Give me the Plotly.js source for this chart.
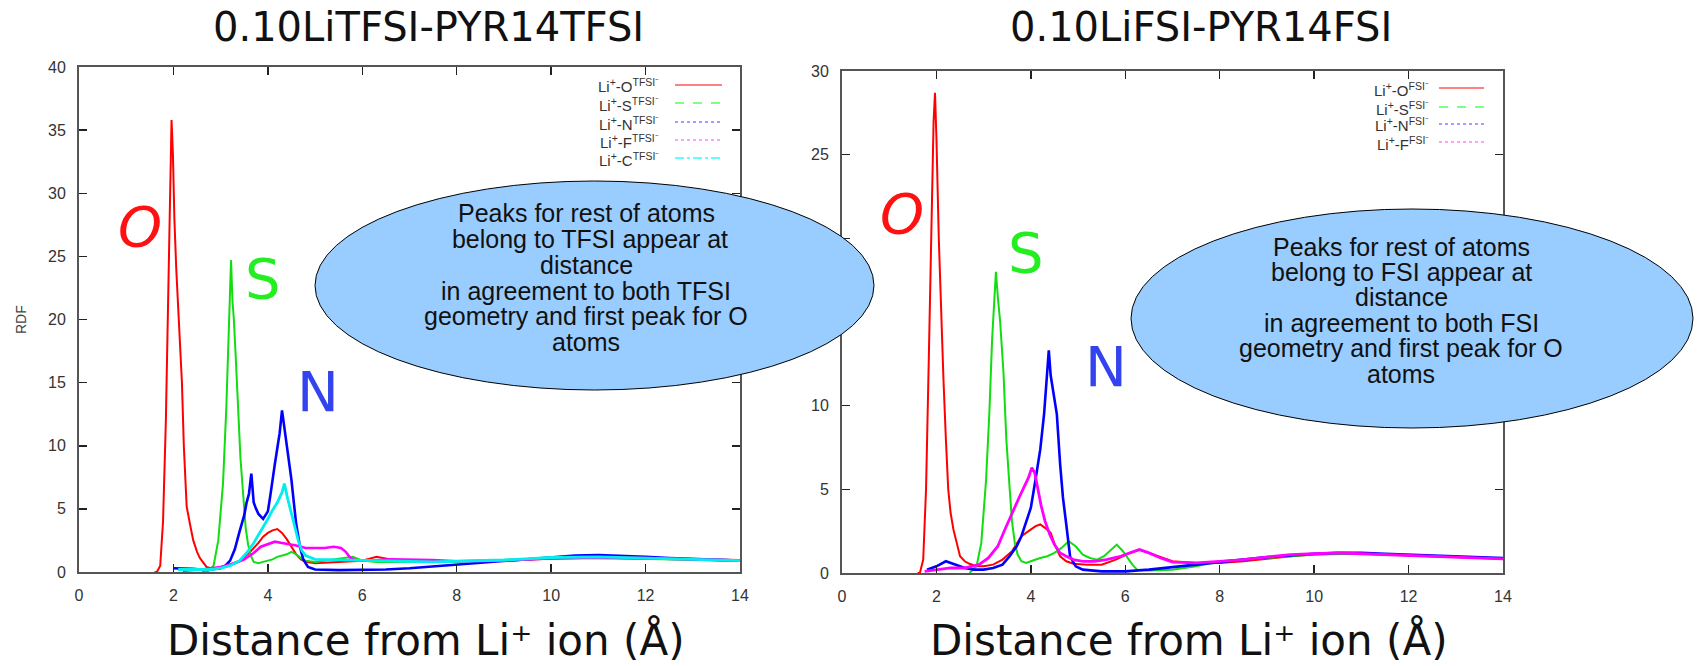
<!DOCTYPE html>
<html><head><meta charset="utf-8">
<script src="https://cdn.plot.ly/plotly-3.0.1.min.js"></script>
<style>html,body{margin:0;padding:0;background:#fff;}#chart{width:1698px;height:666px;}</style>
</head><body><div id="chart"></div>
<script>
const W = 1698, H = 666;

// ---------- Titles / labels ----------
const titleLeft = '0.10LiTFSI-PYR14TFSI';
const titleRight = '0.10LiFSI-PYR14FSI';
const xLabel = 'Distance from Li\u207A ion (\u00C5)';
const yLabel = 'RDF';
const xTicks = [0, 2, 4, 6, 8, 10, 12, 14];
const yTicksLeft = [0, 5, 10, 15, 20, 25, 30, 35, 40];
const yTicksRight = [0, 5, 10, 15, 20, 25, 30];
const legendLeft = ['Li<sup>+</sup>-O<sup>TFSI\u207B</sup>', 'Li<sup>+</sup>-S<sup>TFSI\u207B</sup>', 'Li<sup>+</sup>-N<sup>TFSI\u207B</sup>', 'Li<sup>+</sup>-F<sup>TFSI\u207B</sup>', 'Li<sup>+</sup>-C<sup>TFSI\u207B</sup>'];
const legendRight = ['Li<sup>+</sup>-O<sup>FSI\u207B</sup>', 'Li<sup>+</sup>-S<sup>FSI\u207B</sup>', 'Li<sup>+</sup>-N<sup>FSI\u207B</sup>', 'Li<sup>+</sup>-F<sup>FSI\u207B</sup>'];
const bubbleLeft = ['Peaks for rest of atoms', ' belong to TFSI appear at', 'distance', 'in agreement to both TFSI', 'geometry and first peak for O', 'atoms'];
const bubbleRight = ['Peaks for rest of atoms', 'belong to FSI appear at', 'distance', 'in agreement to both FSI', 'geometry and first peak for O', 'atoms'];

// ---------- Left panel: 0.10LiTFSI-PYR14TFSI ----------
const xO_T = [1.6, 1.65, 1.72, 1.78, 1.84, 1.88, 1.92, 1.96, 1.99, 2.02, 2.06, 2.1, 2.14, 2.18, 2.22, 2.28, 2.35, 2.42, 2.5, 2.56, 2.62, 2.7, 2.8, 2.9, 3.0, 3.2, 3.4, 3.6, 3.8, 3.9, 4.0, 4.1, 4.2, 4.3, 4.4, 4.5, 4.6, 4.7, 4.8, 5.0, 5.5, 6.0, 6.3, 6.6, 7.0, 7.5, 8, 9, 10, 11, 12, 13, 14];
const yO_T = [0, 0, 0.5, 4, 12, 20, 29, 35.8, 33, 28, 24, 21, 18, 15, 10, 5.2, 3.8, 2.5, 1.6, 1.1, 0.8, 0.4, 0.3, 0.3, 0.4, 0.6, 0.9, 1.5, 2.3, 2.8, 3.1, 3.3, 3.4, 3.1, 2.6, 2.0, 1.4, 1.0, 0.8, 0.7, 0.8, 0.9, 1.2, 1.0, 0.9, 0.85, 0.85, 0.9, 1.05, 1.1, 1.05, 1.0, 0.95];

const xS_T = [2.6, 2.75, 2.85, 2.95, 3.05, 3.12, 3.18, 3.22, 3.25, 3.28, 3.32, 3.37, 3.42, 3.48, 3.53, 3.58, 3.64, 3.7, 3.8, 3.9, 4.0, 4.1, 4.2, 4.3, 4.4, 4.5, 4.6, 4.7, 4.8, 5.0, 5.2, 5.5, 5.8, 6.0, 6.3, 6.6, 7, 8, 9, 10, 11, 12, 13, 14];
const yS_T = [0, 0.1, 0.5, 2.5, 7, 13, 20, 24.7, 21.5, 20, 17, 13, 9, 6, 3.5, 2.2, 1.3, 0.8, 0.7, 0.8, 0.9, 1.0, 1.2, 1.3, 1.4, 1.6, 1.4, 1.1, 0.9, 0.8, 0.9, 1.0, 1.2, 0.9, 0.8, 0.8, 0.8, 0.85, 0.95, 1.1, 1.1, 1.05, 1.0, 0.9];

const xN_T = [2.0, 2.2, 2.4, 2.6, 2.8, 3.0, 3.1, 3.2, 3.3, 3.4, 3.5, 3.55, 3.6, 3.65, 3.7, 3.75, 3.8, 3.9, 4.0, 4.05, 4.1, 4.15, 4.2, 4.25, 4.3, 4.35, 4.4, 4.45, 4.5, 4.55, 4.6, 4.68, 4.75, 4.85, 5.0, 5.5, 6.0, 6.5, 7.0, 7.5, 8.0, 8.5, 9.0, 9.5, 10.0, 10.5, 11.0, 11.5, 12.0, 12.5, 13.0, 13.5, 14.0];
const yN_T = [0.3, 0.3, 0.25, 0.2, 0.2, 0.3, 0.5, 0.9, 1.8, 3.2, 4.5, 5.5, 6.2, 7.8, 5.5, 5.0, 4.6, 4.2, 4.8, 6.0, 7.5, 8.6, 9.8, 11.0, 12.8, 11.5, 10.0, 8.5, 7.3, 5.5, 3.8, 2.0, 1.0, 0.4, 0.2, 0.15, 0.15, 0.2, 0.3, 0.45, 0.6, 0.75, 0.9, 1.05, 1.2, 1.3, 1.35, 1.3, 1.2, 1.1, 1.05, 0.95, 0.9];

const xF_T = [2.2, 2.6, 3.0, 3.3, 3.5, 3.7, 3.85, 4.0, 4.15, 4.3, 4.45, 4.6, 4.8, 5.0, 5.2, 5.4, 5.55, 5.65, 5.75, 5.9, 6.2, 6.6, 7.0, 7.5, 8.0, 9.0, 10.0, 11.0, 12.0, 13.0, 14.0];
const yF_T = [0.1, 0.2, 0.4, 0.7, 1.0, 1.5, 2.0, 2.2, 2.4, 2.3, 2.2, 2.1, 1.9, 1.9, 1.9, 2.0, 1.9, 1.6, 1.1, 0.9, 0.9, 1.0, 1.0, 0.95, 0.85, 0.9, 1.1, 1.15, 1.1, 1.0, 0.9];

const xC_T = [2.1, 2.5, 2.8, 3.0, 3.2, 3.4, 3.55, 3.7, 3.85, 4.0, 4.1, 4.2, 4.3, 4.35, 4.42, 4.5, 4.58, 4.65, 4.72, 4.8, 5.0, 5.5, 6.0, 6.5, 7.0, 7.5, 8.0, 9.0, 10.0, 11.0, 12.0, 13.0, 14.0];
const yC_T = [0.2, 0.2, 0.2, 0.3, 0.5, 0.9, 1.5, 2.3, 3.2, 4.2, 4.9, 5.5, 6.3, 7.0, 5.8, 4.6, 3.4, 2.4, 1.7, 1.3, 1.0, 0.95, 0.9, 0.85, 0.8, 0.8, 0.85, 0.95, 1.15, 1.2, 1.1, 1.0, 0.9];

// ---------- Right panel: 0.10LiFSI-PYR14FSI ----------
const xO_F = [1.6, 1.65, 1.72, 1.78, 1.84, 1.9, 1.94, 1.97, 2.0, 2.05, 2.1, 2.15, 2.2, 2.25, 2.3, 2.36, 2.43, 2.5, 2.6, 2.7, 2.85, 3.0, 3.2, 3.4, 3.6, 3.8, 3.95, 4.1, 4.2, 4.3, 4.42, 4.52, 4.62, 4.75, 4.9, 5.2, 5.5, 5.8, 6.1, 6.3, 6.5, 6.8, 7.0, 7.5, 8.0, 8.5, 9.0, 9.5, 10.0, 10.5, 11.0, 11.5, 12.0, 12.5, 13.0, 13.5, 14.0];
const yO_F = [0, 0, 0.8, 5, 13, 22, 27, 28.7, 26, 20, 15, 11.5, 8, 5, 3.6, 2.6, 1.8, 1.0, 0.7, 0.55, 0.4, 0.4, 0.5, 0.8, 1.3, 2.2, 2.5, 2.8, 2.9, 2.7, 2.4, 1.6, 1.0, 0.7, 0.55, 0.5, 0.5, 0.8, 1.2, 1.4, 1.2, 0.9, 0.7, 0.6, 0.6, 0.7, 0.85, 1.0, 1.1, 1.15, 1.15, 1.1, 1.05, 1.0, 0.95, 0.9, 0.85];

const xS_F = [2.7, 2.85, 2.95, 3.05, 3.12, 3.18, 3.23, 3.26, 3.3, 3.35, 3.42, 3.48, 3.54, 3.6, 3.66, 3.72, 3.8, 3.9, 4.0, 4.1, 4.2, 4.35, 4.5, 4.65, 4.8, 4.95, 5.1, 5.25, 5.4, 5.55, 5.7, 5.82, 5.95, 6.05, 6.15, 6.25, 6.5, 7.0, 7.5, 8.0, 9.0, 10.0, 11.0, 12.0, 13.0, 14.0];
const yS_F = [0, 0.4, 1.8, 5.5, 9.5, 14, 16.5, 18.0, 16.5, 15, 12, 8, 5.5, 3.1, 1.8, 1.1, 0.7, 0.6, 0.7, 0.8, 0.9, 1.0, 1.2, 1.5, 1.9, 1.6, 1.1, 0.9, 0.8, 1.0, 1.4, 1.7, 1.3, 0.9, 0.5, 0.2, 0.15, 0.2, 0.4, 0.7, 0.9, 1.1, 1.15, 1.05, 0.95, 0.85];

const xN_F = [1.8, 2.0, 2.2, 2.4, 2.6, 2.8, 3.0, 3.2, 3.4, 3.55, 3.7, 3.8, 3.9, 4.0, 4.1, 4.2, 4.28, 4.34, 4.38, 4.42, 4.48, 4.55, 4.62, 4.68, 4.75, 4.83, 4.95, 5.1, 5.5, 6.0, 6.5, 7.0, 7.5, 8.0, 8.5, 9.0, 9.5, 10.0, 10.5, 11.0, 11.5, 12.0, 12.5, 13.0, 13.5, 14.0];
const yN_F = [0.2, 0.4, 0.7, 0.5, 0.3, 0.2, 0.2, 0.3, 0.5, 1.0, 1.6, 2.2, 3.0, 3.9, 5.6, 7.4, 9.5, 11.5, 13.3, 11.8, 10.8, 9.5, 6.5, 4.5, 2.9, 1.0, 0.4, 0.2, 0.1, 0.1, 0.2, 0.35, 0.5, 0.65, 0.8, 0.95, 1.05, 1.15, 1.2, 1.2, 1.15, 1.1, 1.05, 1.0, 0.95, 0.9];

const xF_F = [1.75, 2.0, 2.3, 2.6, 2.9, 3.1, 3.3, 3.45, 3.6, 3.75, 3.85, 3.95, 4.02, 4.08, 4.15, 4.22, 4.3, 4.4, 4.5, 4.62, 4.75, 4.9, 5.1, 5.35, 5.6, 5.9, 6.1, 6.3, 6.5, 6.75, 7.0, 7.5, 8.0, 8.5, 9.0, 9.5, 10.0, 10.5, 11.0, 11.5, 12.0, 12.5, 13.0, 13.5, 14.0];
const yF_F = [0.1, 0.2, 0.3, 0.3, 0.5, 0.9, 1.6, 2.6, 3.6, 4.5, 5.1, 5.7, 6.3, 6.0, 5.0, 4.0, 3.1, 2.3, 1.7, 1.2, 1.0, 0.8, 0.7, 0.7, 0.8, 1.0, 1.2, 1.4, 1.2, 0.9, 0.65, 0.6, 0.7, 0.8, 0.95, 1.1, 1.15, 1.2, 1.15, 1.1, 1.05, 1.0, 0.95, 0.9, 0.85];

// ---------- styling ----------
const C = {O:'#ff0000', S:'#11dd11', N:'#0000ff', F:'#ff00ff', Cc:'#00eeee'};
const CL = {O:'#ff8080', S:'#7fff7f', N:'#a0a0ff', F:'#ffa0ff', Cc:'#60ffff'};
const tickFont = {family:'"Liberation Sans Narrow", "Liberation Sans", Arial, sans-serif', size:16, color:'#333'};

function tr(x, y, color, xa, ya, w) {
  return {x:x, y:y, type:'scatter', mode:'lines', line:{color:color, width:w || 2}, xaxis:xa, yaxis:ya, hoverinfo:'skip'};
}
const data = [
  tr(xO_T, yO_T, C.O, 'x', 'y', 2),
  tr(xS_T, yS_T, C.S, 'x', 'y', 2),
  tr(xN_T, yN_T, C.N, 'x', 'y', 2.6),
  tr(xF_T, yF_T, C.F, 'x', 'y', 2.6),
  tr(xC_T, yC_T, C.Cc, 'x', 'y', 2.8),
  tr(xO_F, yO_F, C.O, 'x2', 'y2', 2),
  tr(xS_F, yS_F, C.S, 'x2', 'y2', 2),
  tr(xN_F, yN_F, C.N, 'x2', 'y2', 2.6),
  tr(xF_F, yF_F, C.F, 'x2', 'y2', 2.8)
];

function axis(domain, range, ticks, anchor, standoff) {
  return {domain:domain, range:range, tickvals:ticks, ticktext:ticks.map(String), anchor:anchor,
    showline:true, linecolor:'#555', linewidth:2, mirror:'ticks', ticks:'inside', ticklen:8,
    tickwidth:1.5, tickcolor:'#222', showgrid:false, zeroline:false, tickfont:tickFont,
    ticklabelstandoff:standoff, fixedrange:true};
}
// plot rectangles in pixels
const L = {x0:79, x1:740, y0:67, y1:572};
const R = {x0:842, x1:1503, y0:71, y1:573};
const dx = r => [r.x0 / W, r.x1 / W];
const dy = r => [1 - r.y1 / H, 1 - r.y0 / H];

function ann(text, x, y, font, extra) {
  return Object.assign({text:text, x:x / W, y:1 - y / H, xref:'paper', yref:'paper', showarrow:false,
    font:font, xanchor:'center', yanchor:'middle'}, extra || {});
}
const titleFont = {family:'"DejaVu Sans", sans-serif', size:40, color:'#111'};
const xlabFont = {family:'"DejaVu Sans", sans-serif', size:42, color:'#111'};
const bubbleFont = {family:'"Liberation Sans", Arial, sans-serif', size:25, color:'#111'};
const legFont = {family:'"Liberation Sans Narrow", "Liberation Sans", Arial, sans-serif', size:15, color:'#333'};
const bigFont = (c, it) => ({family:'"DejaVu Sans", sans-serif', size:56, color:c, style: it ? 'italic' : 'normal'});

const annotations = [
  ann(titleLeft, 428, 27, titleFont),
  ann(titleRight, 1201, 27, titleFont),
  ann(xLabel, 426, 640, xlabFont),
  ann(xLabel, 1189, 640, xlabFont),
  ann(yLabel, 21, 320, {family:'"Liberation Sans", Arial, sans-serif', size:14, color:'#444'}, {textangle:-90}),
  ann('O', 140, 226, bigFont('#ff1111', true)),
  ann('S', 263, 278, bigFont('#22ee22', false)),
  ann('N', 318, 391, bigFont('#3344ee', false)),
  ann('O', 902, 213, bigFont('#ff1111', true)),
  ann('S', 1026, 252, bigFont('#22ee22', false)),
  ann('N', 1106, 366, bigFont('#3344ee', false))
];
const bubbleLeftY = [213, 239, 265, 291, 316, 342];
const bubbleRightY = [247, 272, 297, 323, 348, 374];
bubbleLeft.forEach((t, i) => annotations.push(ann(t, 586, bubbleLeftY[i], bubbleFont)));
bubbleRight.forEach((t, i) => annotations.push(ann(t, 1401, bubbleRightY[i], bubbleFont)));

const legLeftY = [85, 103, 122, 140, 158];
const legRightY = [88, 107, 124, 142];
const legLeftCol = [CL.O, CL.S, CL.N, CL.F, CL.Cc];
const legRightCol = [CL.O, CL.S, CL.N, CL.F];
const dashes = ['solid', 'dash', 'dot', 'dot', 'dashdot'];

const shapes = [];
legendLeft.forEach((t, i) => {
  annotations.push(ann(t, 661, legLeftY[i] + 1, legFont, {xanchor:'right'}));
  shapes.push({type:'line', xref:'paper', yref:'paper', x0:675 / W, x1:722 / W, y0:1 - legLeftY[i] / H, y1:1 - legLeftY[i] / H,
    line:{color:legLeftCol[i], width:2, dash:dashes[i]}});
});
legendRight.forEach((t, i) => {
  annotations.push(ann(t, 1431, legRightY[i] + 1, legFont, {xanchor:'right'}));
  shapes.push({type:'line', xref:'paper', yref:'paper', x0:1439 / W, x1:1484 / W, y0:1 - legRightY[i] / H, y1:1 - legRightY[i] / H,
    line:{color:legRightCol[i], width:2, dash:dashes[i]}});
});
// callout ellipses
shapes.push({type:'circle', xref:'paper', yref:'paper', layer:'above', x0:315 / W, x1:874 / W, y0:1 - 390 / H, y1:1 - 181 / H,
  fillcolor:'#99ccff', line:{color:'#000', width:1}});
shapes.push({type:'circle', xref:'paper', yref:'paper', layer:'above', x0:1131 / W, x1:1693 / W, y0:1 - 428 / H, y1:1 - 209 / H,
  fillcolor:'#99ccff', line:{color:'#000', width:1}});

const layout = {
  width:W, height:H, margin:{l:0, r:0, t:0, b:0}, paper_bgcolor:'#fff', plot_bgcolor:'#fff', showlegend:false,
  xaxis:axis(dx(L), [0, 14], xTicks, 'y', 8),
  yaxis:axis(dy(L), [0, 40], yTicksLeft, 'x', 8),
  xaxis2:axis(dx(R), [0, 14], xTicks, 'y2', 8),
  yaxis2:axis(dy(R), [0, 30], yTicksRight, 'x2', 8),
  annotations:annotations, shapes:shapes
};
Plotly.newPlot('chart', data, layout, {staticPlot:true, displayModeBar:false});
</script></body></html>
